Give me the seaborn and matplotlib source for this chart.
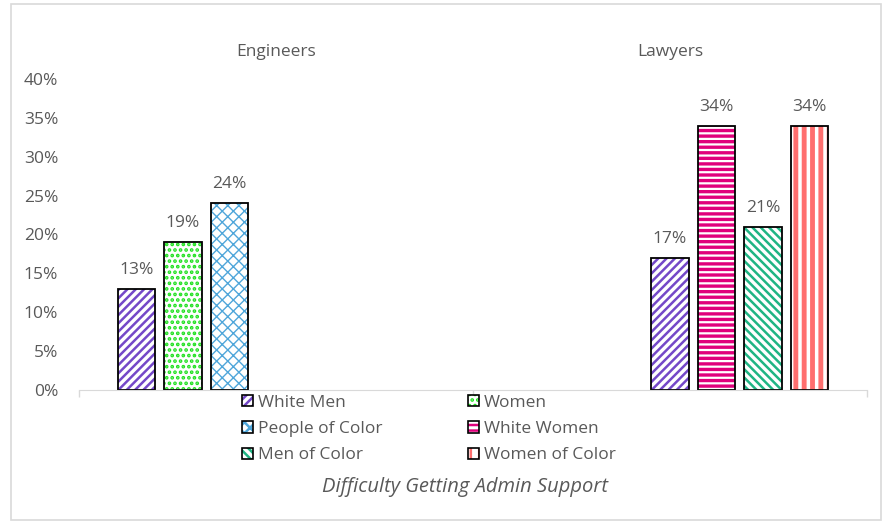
import pandas as pd
import matplotlib.pyplot as plt
import seaborn as sns
from matplotlib.patches import Patch, Rectangle

# values
professions = ["Engineers", "Lawyers"]
eng_groups = ["White Men", "Women", "People of Color"]
eng_values = [0.13, 0.19, 0.24]
law_groups = ["White Men", "White Women", "Men of Color", "Women of Color"]
law_values = [0.17, 0.34, 0.21, 0.34]

group_colors = {
    "White Men": "#7448c8",
    "Women": "#1fe01f",
    "People of Color": "#4fa6da",
    "White Women": "#e0007c",
    "Men of Color": "#1fb584",
    "Women of Color": "#ff6f6f",
}
group_hatches = {
    "White Men": "////",
    "Women": "...",
    "People of Color": "xxx",
    "White Women": "---",
    "Men of Color": "\\\\\\\\",
    "Women of Color": "||",
}
hatch_widths = {
    "White Men": 1.8,
    "Women": 1.8,
    "People of Color": 1.0,
    "White Women": 2.4,
    "Men of Color": 1.8,
    "Women of Color": 3.5,
}
legend_order = ["White Men", "People of Color", "Men of Color",
                "Women", "White Women", "Women of Color"]

text_color = "#595959"
fsize = 12.5


def style_patch(p, group):
    p.set_facecolor("white")
    p.set_edgecolor(group_colors[group])
    p.set_hatch(group_hatches[group])
    p.set_linewidth(0)
    if hasattr(p, "set_hatch_linewidth"):
        p.set_hatch_linewidth(hatch_widths[group])


if __name__ == '__main__':
    sns.set_style("white")
    plt.rcParams['font.family'] = ['Open Sans', 'DejaVu Sans']
    plt.rcParams['hatch.linewidth'] = 1.8

    df = pd.DataFrame({
        "profession": ["Engineers"] * len(eng_groups) + ["Lawyers"] * len(law_groups),
        "group": eng_groups + law_groups,
        "value": eng_values + law_values,
    })
    df["series"] = df["profession"] + " " + df["group"]
    hue_order = df["series"].tolist()
    palette = dict(zip(df["series"], df["group"].map(group_colors)))

    fig = plt.figure(figsize=(8.86, 5.24), dpi=100)
    ax = fig.add_axes([79 / 886, 1 - 390 / 524, 788 / 886, 311 / 524])

    sns.barplot(data=df, x="profession", y="value", hue="series",
                order=professions, hue_order=hue_order, palette=palette,
                width=0.826, gap=0.2, dodge=True, legend=False, ax=ax)

    # pattern fills like the Excel original: coloured hatch, black outline
    for cont, (_, row) in zip(ax.containers, df.iterrows()):
        for p in cont.patches:
            style_patch(p, row["group"])
            ax.add_patch(Rectangle(p.get_xy(), p.get_width(), p.get_height(),
                                   fill=False, edgecolor="black", linewidth=1.3))
        ax.bar_label(cont, labels=[f"{v:.0%}" for v in cont.datavalues],
                     padding=8, fontsize=fsize, color=text_color)

    ax.set_ylim(0, 0.4)
    ax.set_yticks([i * 0.05 for i in range(9)])
    ax.set_yticklabels([f"{i * 5}%" for i in range(9)])
    ax.set_xlim(-0.5, 1.5)
    ax.set_xlabel("")
    ax.set_ylabel("")
    ax.tick_params(axis="y", length=0, pad=15, labelsize=fsize, labelcolor=text_color)
    ax.tick_params(axis="x", which="major", length=0, bottom=False, labelbottom=False,
                   top=False, labeltop=True, pad=14, labelsize=fsize, labelcolor=text_color)
    ax.set_xticks([-0.5, 0.5, 1.5], minor=True)
    ax.tick_params(axis="x", which="minor", bottom=True, top=False, length=5,
                   width=1, color="#d9d9d9")
    sns.despine(ax=ax, left=True, top=True, right=True)
    ax.spines["bottom"].set_color("#d9d9d9")

    handles = []
    for g in legend_order:
        h = Patch()
        style_patch(h, g)
        handles.append((h, Patch(fill=False, edgecolor="black", linewidth=1.2)))
    fig.legend(handles, legend_order, ncol=2, loc="upper left",
               bbox_to_anchor=(226 / 886, 1 - 379 / 524), frameon=False,
               handlelength=0.65, handleheight=0.65, handletextpad=0.3,
               columnspacing=4.9, labelspacing=0.6, fontsize=fsize,
               labelcolor=text_color)

    fig.text(465 / 886, 1 - 487 / 524, "Difficulty Getting Admin Support",
             ha="center", va="center", style="italic", fontsize=14.5,
             color=text_color)

    # light chart border
    fig.add_artist(Rectangle((11 / 886, 4 / 524), 870 / 886, 516 / 524,
                             transform=fig.transFigure, fill=False,
                             edgecolor="#d9d9d9", linewidth=1.2))

    fig.savefig("out.png", dpi=100)
